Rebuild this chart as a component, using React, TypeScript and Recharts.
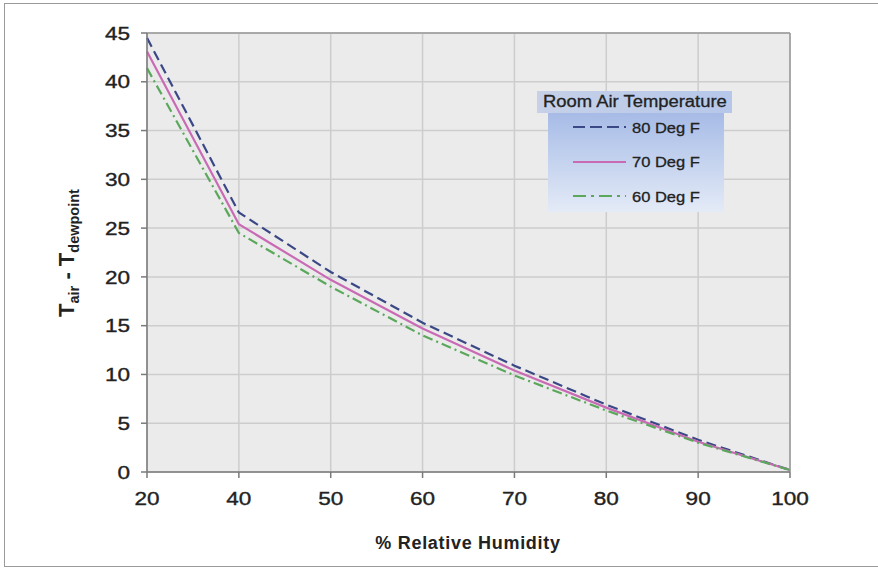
import React from 'react';
import { LineChart, Line, XAxis, YAxis, CartesianGrid, ReferenceLine } from 'recharts';

const humidity = [20, 40, 50, 60, 70, 80, 90, 100];
const deg80 = [44.5, 26.6, 20.5, 15.3, 10.9, 6.9, 3.3, 0.2];
const deg70 = [43.1, 25.4, 19.7, 14.7, 10.4, 6.6, 3.1, 0.2];
const deg60 = [41.4, 24.5, 19.0, 14.0, 9.9, 6.3, 3.0, 0.2];
const yTicks = [0, 5, 10, 15, 20, 25, 30, 35, 40, 45];

const seriesInfo = [
  { key: 'f80', name: '80 Deg F', color: '#3b4886', dash: '10 5', legendDash: '12 5' },
  { key: 'f70', name: '70 Deg F', color: '#c96bb4', dash: undefined, legendDash: undefined },
  { key: 'f60', name: '60 Deg F', color: '#5ba85c', dash: '10 4 2 4', legendDash: '13 5 3 5' },
];

const data = humidity.map((rh, i) => ({ rh, f80: deg80[i], f70: deg70[i], f60: deg60[i] }));

const FONT = '"Liberation Sans", Arial, sans-serif';
const STRETCH = 1.22;

const XTick = ({ x, y, payload }: any) => (
  <text
    transform={`translate(${x}, ${y}) scale(${STRETCH}, 1)`}
    textAnchor="middle"
    dy="0.71em"
    fontFamily={FONT}
    fontSize={18.5}
    fill="#222"
    stroke="#222"
    strokeWidth={0.35}
  >
    {payload.value}
  </text>
);

const YTick = ({ x, y, payload }: any) => (
  <text
    transform={`translate(${x}, ${y}) scale(${STRETCH}, 1)`}
    textAnchor="end"
    dy="0.36em"
    fontFamily={FONT}
    fontSize={18.5}
    fill="#222"
    stroke="#222"
    strokeWidth={0.35}
  >
    {payload.value}
  </text>
);

const YLabel = () => (
  <text
    transform="translate(74, 253) rotate(-90)"
    textAnchor="middle"
    fontFamily={FONT}
    fontWeight="bold"
    fill="#222"
    fontSize={22}
  >
    <tspan>T</tspan>
    <tspan fontSize={14.5} dy={5}>air</tspan>
    <tspan dy={-5}> - T</tspan>
    <tspan fontSize={14.5} dy={5}>dewpoint</tspan>
  </text>
);

const XLabel = () => (
  <text
    x={468}
    y={549}
    textAnchor="middle"
    fontFamily={FONT}
    fontWeight="bold"
    fill="#222"
    fontSize={18}
    letterSpacing={0.7}
  >
    % Relative Humidity
  </text>
);

const LegendBox = () => (
  <div style={{ position: 'absolute', left: 537, top: 91, fontFamily: FONT, color: '#222' }}>
    <div
      style={{
        width: 195,
        height: 22,
        background: 'linear-gradient(to right, #c6d1e8, #b6c7ea)',
        fontSize: 16,
        lineHeight: '22px',
        textAlign: 'center',
        WebkitTextStroke: '0.3px #222',
      }}
    >
      <span style={{ display: 'inline-block', transform: 'scaleX(1.15)' }}>Room Air Temperature</span>
    </div>
    <div
      style={{
        marginLeft: 11,
        width: 176,
        height: 99,
        background: 'linear-gradient(to bottom, #a6bbe6, #e4ebf7)',
        position: 'relative',
      }}
    >
      {seriesInfo.map((s, i) => (
        <div
          key={s.key}
          style={{ position: 'absolute', left: 0, top: 4 + i * 34.5, height: 20, display: 'flex', alignItems: 'center' }}
        >
          <svg width={80} height={10}>
            <line x1={25} x2={78} y1={5} y2={5} stroke={s.color} strokeWidth={2} strokeDasharray={s.legendDash} />
          </svg>
          <span
            style={{
              fontSize: 15,
              marginLeft: 4,
              display: 'inline-block',
              transform: 'scaleX(1.1)',
              transformOrigin: 'left center',
              WebkitTextStroke: '0.3px #222',
            }}
          >
            {s.name}
          </span>
        </div>
      ))}
    </div>
  </div>
);

export default function App() {
  return (
    <div style={{ position: 'absolute', left: 0, top: 0, width: 878, height: 569, background: '#fff', overflow: 'hidden' }}>
      <div
        style={{
          position: 'absolute',
          left: 4,
          top: 3,
          width: 880,
          height: 562,
          borderTop: '1px solid #9a9a9a',
          borderLeft: '1px solid #9a9a9a',
          borderBottom: '1px solid #9a9a9a',
        }}
      />
      <LineChart width={878} height={569} data={data} margin={{ top: 33, right: 88, bottom: 0, left: 0 }}>
        <CartesianGrid fill="#ebebeb" stroke="#cdcdcd" strokeWidth={1.5} />
        <XAxis
          dataKey="rh"
          height={97}
          stroke="#7a7a7a"
          strokeWidth={1.5}
          tickSize={6}
          tickMargin={14}
          tick={<XTick />}
          label={<XLabel />}
        />
        <YAxis
          width={147}
          domain={[0, 45]}
          ticks={yTicks}
          stroke="#7a7a7a"
          strokeWidth={1.5}
          tickSize={6}
          tickMargin={11}
          tick={<YTick />}
          label={<YLabel />}
        />
        <ReferenceLine y={45} stroke="#9a9a9a" strokeWidth={1.5} />
        <ReferenceLine x={100} stroke="#9a9a9a" strokeWidth={1.5} />
        {seriesInfo.map((s) => (
          <Line
            key={s.key}
            dataKey={s.key}
            name={s.name}
            stroke={s.color}
            strokeWidth={2.2}
            strokeDasharray={s.dash}
            dot={false}
            type="linear"
            isAnimationActive={false}
          />
        ))}
      </LineChart>
      <LegendBox />
    </div>
  );
}
